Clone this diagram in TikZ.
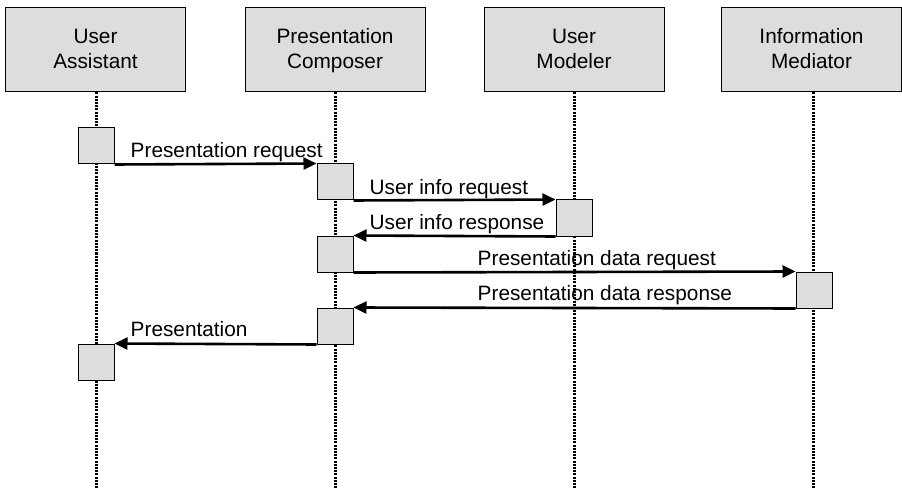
\documentclass[tikz,border=0pt]{standalone}
\usepackage{fontspec}
\setmainfont{Liberation Sans}
\usetikzlibrary{arrows.meta}
\definecolor{boxgray}{HTML}{DDDDDD}
\begin{document}
\begin{tikzpicture}[x=1pt,y=-1pt,
  head/.style={draw, line width=1pt, fill=boxgray, minimum width=180pt,
    minimum height=84pt, inner sep=0pt, align=center,
    text height=40pt, text depth=2pt,
    font=\fontsize{20.8}{25}\selectfont},
  act/.style={draw, line width=1pt, fill=boxgray, minimum size=36pt, inner sep=0pt},
  life/.style={line width=3pt, dash pattern=on 2pt off 1.2pt},
  msg/.style={line width=2.6pt, -{Triangle[length=13pt,width=12pt]}},
  lbl/.style={inner sep=0pt, anchor=base west, font=\fontsize{20.8}{25}\selectfont}]
  \useasboundingbox (0,0) rectangle (902,489);

  % lifeline heads
  \node[head] (ua) at (95.5,50) {User\\Assistant};
  \node[head] (pc) at (335,50) {Presentation\\Composer};
  \node[head] (um) at (574,50) {User\\Modeler};
  \node[head] (im) at (811.5,50) {Information\\Mediator};

  % lifeline ends
  \coordinate (uaend) at (96,489);
  \coordinate (pcend) at (335,489);
  \coordinate (umend) at (574,489);
  \coordinate (imend) at (813,489);
  \draw[life] (ua.south -| uaend) -- (uaend);
  \draw[life] (pc.south -| pcend) -- (pcend);
  \draw[life] (um.south -| umend) -- (umend);
  \draw[life] (im.south -| imend) -- (imend);

  % activations
  \node[act] (ua1) at (96,146) {};
  \node[act] (pc1) at (335,182) {};
  \node[act] (um1) at (574,218) {};
  \node[act] (pc2) at (335,254) {};
  \node[act] (im1) at (814,290) {};
  \node[act] (pc3) at (335,326) {};
  \node[act] (ua2) at (96,362) {};

  % messages
  \draw[msg] (ua1.south east) -- (pc1.north west);
  \draw[msg] (pc1.south east) -- (um1.north west);
  \draw[msg] (um1.south west) -- (pc2.north east);
  \draw[msg] (pc2.south east) -- (im1.north west);
  \draw[msg] (im1.south west) -- (pc3.north east);
  \draw[msg] (pc3.south west) -- (ua2.north east);

  % message labels
  \node[lbl] (m1) at ([xshift=16pt,yshift=7pt]ua1.south east) {Presentation request};
  \node[lbl] (m2) at ([xshift=16pt,yshift=6pt]pc1.south east) {User info request};
  \node[lbl] (m3) at ([xshift=16pt,yshift=6pt]pc2.north east) {User info response};
  \node[lbl] (m4) at ([xshift=124pt,yshift=7pt]pc2.south east) {Presentation data request};
  \node[lbl] (m5) at ([xshift=124pt,yshift=7pt]pc3.north east) {Presentation data response};
  \node[lbl] (m6) at ([xshift=16pt,yshift=7pt]ua2.north east) {Presentation};
\end{tikzpicture}
\end{document}
